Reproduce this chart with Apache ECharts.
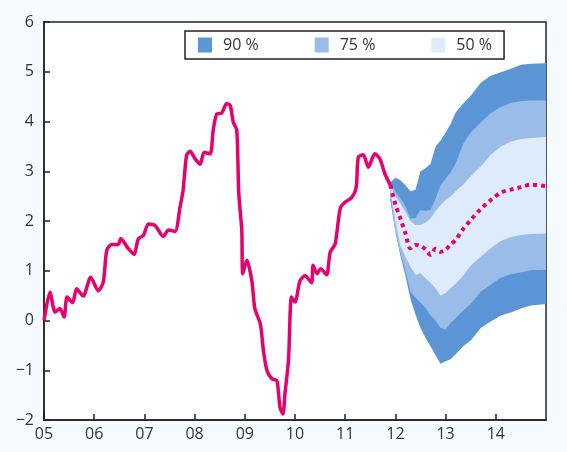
<!DOCTYPE html>
<html>
<head>
<meta charset="utf-8">
<script src="https://cdn.jsdelivr.net/npm/echarts@6/dist/echarts.min.js"></script>
<style>
  html, body { margin: 0; padding: 0; background: #f4fafd; }
  #chart { width: 567px; height: 452px; }
</style>
</head>
<body>
<div id="chart"></div>
<script>
// Observed inflation path (decimal years, per cent)
const histYears = [2005.00, 2005.12, 2005.22, 2005.32, 2005.40, 2005.46, 2005.57, 2005.65, 2005.78, 2005.93,
  2006.08, 2006.18, 2006.25, 2006.35, 2006.48, 2006.53, 2006.66, 2006.79, 2006.88, 2006.98,
  2007.08, 2007.21, 2007.38, 2007.48, 2007.61, 2007.71, 2007.77, 2007.84, 2007.91,
  2008.01, 2008.11, 2008.19, 2008.31, 2008.37, 2008.44, 2008.54, 2008.64, 2008.71, 2008.77, 2008.84, 2008.88, 2008.94, 2008.96,
  2009.04, 2009.14, 2009.20, 2009.31, 2009.37, 2009.44, 2009.54, 2009.64, 2009.70, 2009.76, 2009.80, 2009.87, 2009.93,
  2010.00, 2010.10, 2010.20, 2010.33, 2010.36, 2010.44, 2010.51, 2010.63, 2010.70, 2010.80, 2010.90,
  2011.00, 2011.13, 2011.22, 2011.26, 2011.36, 2011.46, 2011.59, 2011.69, 2011.79, 2011.90];
const histValues = [0.00, 0.57, 0.17, 0.24, 0.07, 0.47, 0.36, 0.64, 0.49, 0.87,
  0.60, 0.77, 1.41, 1.53, 1.53, 1.65, 1.47, 1.33, 1.64, 1.71,
  1.94, 1.91, 1.69, 1.82, 1.79, 2.28, 2.61, 3.32, 3.40,
  3.25, 3.14, 3.38, 3.35, 3.82, 4.15, 4.17, 4.36, 4.32, 3.99, 3.82, 2.55, 1.81, 0.94,
  1.21, 0.80, 0.24, -0.07, -0.60, -1.00, -1.17, -1.21, -1.74, -1.88, -1.47, -0.80, 0.47,
  0.37, 0.80, 0.90, 0.76, 1.11, 0.94, 1.04, 0.92, 1.37, 1.54, 2.25,
  2.38, 2.47, 2.68, 3.28, 3.33, 3.08, 3.35, 3.25, 2.95, 2.72];

// Forecast fan: probability bands and central path
const fanYears = [2011.9, 2012.0, 2012.1, 2012.2, 2012.3, 2012.4, 2012.5, 2012.6, 2012.7, 2012.8, 2012.9,
  2013.0, 2013.1, 2013.2, 2013.35, 2013.5, 2013.7, 2013.9, 2014.1, 2014.3, 2014.5, 2014.7, 2015.0];
const band90High = [2.78, 2.87, 2.82, 2.72, 2.60, 2.63, 3.00, 3.06, 3.15, 3.50, 3.62,
  3.78, 3.95, 4.18, 4.36, 4.52, 4.78, 4.92, 4.99, 5.06, 5.14, 5.16, 5.17];
const band75High = [2.75, 2.60, 2.45, 2.30, 2.05, 2.06, 2.22, 2.20, 2.22, 2.45, 2.72,
  2.85, 2.98, 3.15, 3.55, 3.78, 3.98, 4.17, 4.29, 4.37, 4.41, 4.42, 4.42];
const band50High = [2.72, 2.50, 2.35, 2.18, 2.00, 1.92, 1.92, 1.97, 2.05, 2.20, 2.32,
  2.42, 2.50, 2.60, 2.73, 2.90, 3.10, 3.33, 3.50, 3.60, 3.65, 3.67, 3.69];
const medianPath = [2.72, 2.33, 2.05, 1.75, 1.45, 1.52, 1.50, 1.43, 1.32, 1.44, 1.38,
  1.42, 1.53, 1.62, 1.84, 2.02, 2.24, 2.42, 2.57, 2.63, 2.68, 2.73, 2.70];
const band50Low = [2.60, 2.00, 1.50, 1.28, 1.08, 0.92, 0.95, 0.85, 0.76, 0.65, 0.50,
  0.55, 0.65, 0.74, 0.90, 1.10, 1.28, 1.45, 1.60, 1.68, 1.72, 1.74, 1.75];
const band75Low = [2.55, 1.75, 1.35, 1.00, 0.58, 0.46, 0.36, 0.25, 0.10, 0.00, -0.15,
  -0.18, -0.05, 0.05, 0.20, 0.33, 0.58, 0.72, 0.86, 0.93, 0.97, 1.01, 1.02];
const band90Low = [2.40, 1.80, 1.30, 0.90, 0.43, 0.12, -0.15, -0.35, -0.52, -0.70, -0.87,
  -0.82, -0.78, -0.68, -0.52, -0.40, -0.15, -0.02, 0.10, 0.16, 0.24, 0.30, 0.33];

const xTickLabels = ['05', '06', '07', '08', '09', '10', '11', '12', '13', '14'];
const bandNames = ['90 %', '75 %', '50 %'];

const FONT = 'Open Sans';
const AXIS_COLOR = '#222';
const LINE_COLOR = '#e5006d';

function toPairs(xs, ys) {
  return xs.map((x, i) => [x, ys[i]]);
}

// Filled band between a lower and an upper path, mapped through the axes
function bandSeries(name, color, low, high) {
  return {
    type: 'custom',
    name: name,
    clip: true,
    silent: true,
    itemStyle: { color: color },
    data: [[fanYears[0], low[0]]],
    encode: { x: 0, y: 1 },
    z: 2,
    renderItem: function (params, api) {
      const top = high.map((v, i) => api.coord([fanYears[i], v]));
      const bottom = low.map((v, i) => api.coord([fanYears[i], v])).reverse();
      return {
        type: 'polygon',
        shape: { points: top.concat(bottom) },
        style: { fill: color }
      };
    }
  };
}

const chart = echarts.init(document.getElementById('chart'), null, { renderer: 'canvas' });

chart.setOption({
  backgroundColor: '#f4fafd',
  animation: false,
  textStyle: { fontFamily: FONT },
  grid: {
    left: 44, right: 21, top: 22, bottom: 32,
    show: true,
    backgroundColor: '#ffffff',
    borderColor: AXIS_COLOR,
    borderWidth: 1.5
  },
  legend: {
    left: 185, top: 31,
    padding: [6, 12, 6, 13],
    itemWidth: 14, itemHeight: 15,
    itemGap: 56,
    icon: 'rect',
    backgroundColor: '#ffffff',
    borderColor: AXIS_COLOR,
    borderWidth: 1.5,
    selectedMode: false,
    textStyle: { fontFamily: FONT, fontSize: 16, color: '#333', padding: [0, 0, 0, 6] },
    data: bandNames
  },
  xAxis: {
    type: 'value',
    min: 2005, max: 2015, interval: 1,
    axisLine: { show: true, onZero: false, lineStyle: { color: AXIS_COLOR, width: 1.5 } },
    axisTick: { show: true, inside: true, length: 6, lineStyle: { color: AXIS_COLOR, width: 1.5 } },
    splitLine: { show: false },
    axisLabel: {
      margin: 6,
      fontFamily: FONT, fontSize: 16, color: '#333',
      showMaxLabel: false,
      formatter: function (v) {
        const i = Math.round(v - 2005);
        return xTickLabels[i] !== undefined ? xTickLabels[i] : '';
      }
    }
  },
  yAxis: {
    type: 'value',
    min: -2, max: 6, interval: 1,
    axisLine: { show: true, onZero: false, lineStyle: { color: AXIS_COLOR, width: 1.5 } },
    axisTick: { show: true, inside: true, length: 6, lineStyle: { color: AXIS_COLOR, width: 1.5 } },
    splitLine: { show: false },
    axisLabel: {
      margin: 10,
      fontFamily: FONT, fontSize: 16, color: '#333',
      formatter: function (v) { return v < 0 ? '\u2212' + (-v) : String(v); }
    }
  },
  series: [
    bandSeries(bandNames[0], '#5b95d6', band90Low, band90High),
    bandSeries(bandNames[1], '#9abce8', band75Low, band75High),
    bandSeries(bandNames[2], '#deebfb', band50Low, band50High),
    {
      type: 'line',
      name: 'central',
      data: toPairs(fanYears, medianPath),
      showSymbol: false,
      smooth: 0.3,
      z: 6,
      lineStyle: { color: LINE_COLOR, width: 4, type: [4, 4], cap: 'butt' }
    },
    {
      type: 'line',
      name: 'observed',
      data: toPairs(histYears, histValues),
      showSymbol: false,
      smooth: 0.25,
      z: 5,
      lineStyle: { color: LINE_COLOR, width: 3.5 }
    }
  ]
});
</script>
</body>
</html>
